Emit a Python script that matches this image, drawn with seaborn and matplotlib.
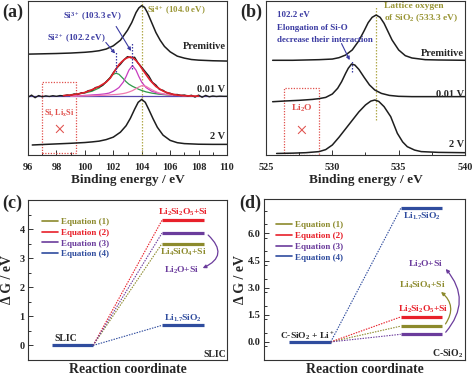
import matplotlib
matplotlib.use("Agg")
import matplotlib.pyplot as plt
from matplotlib.patches import Rectangle, FancyArrowPatch
from matplotlib.lines import Line2D
import seaborn as sns

# ---------------- data ----------------
# (a) Si 2p spectra, y in arbitrary stacked units (0-100)
prem_a_x = [96.0, 97.0, 98.0, 99.0, 100.0, 100.5, 101.0, 101.5, 102.0, 102.5, 103.0, 103.3, 103.6, 103.8,
            104.0, 104.2, 104.4, 104.7, 105.0, 105.3, 105.6, 106.0, 106.5, 107.0, 107.5, 108.0, 109.0, 110.0]
prem_a_y = [65.5, 65.7, 65.9, 66.2, 66.7, 67.1, 67.7, 68.8, 70.9, 74.5, 81.0, 86.0, 92.5, 95.5,
            97.0, 95.8, 92.5, 86.0, 79.5, 74.5, 70.5, 67.0, 64.2, 62.9, 62.0, 61.6, 61.2, 61.0]

raw_x = [96.0, 96.25, 96.5, 96.75, 97.0, 97.25, 97.5, 97.75, 98.0, 98.25, 98.5, 98.75, 99.0, 99.25, 99.5,
         99.75, 100.0, 100.25, 100.5, 100.75, 101.0, 101.25, 101.5, 101.75, 102.0, 102.25, 102.5, 102.75,
         103.0, 103.25, 103.5, 103.75, 104.0, 104.25, 104.5, 104.75, 105.0, 105.25, 105.5, 105.75, 106.0,
         106.25, 106.5, 106.75, 107.0, 107.25, 107.5, 107.75, 108.0, 108.25, 108.5, 108.75, 109.0, 109.25,
         109.5, 109.75, 110.0]
raw_y = [37.5, 38.9, 37.2, 38.6, 37.8, 38.4, 38.0, 38.5, 38.1, 38.6, 38.4, 39.0, 38.7, 39.6, 39.3,
         40.4, 40.5, 41.8, 42.0, 43.8, 44.2, 45.2, 47.6, 49.8, 53.4, 56.6, 58.9, 61.8,
         63.9, 63.1, 63.5, 59.6, 57.0, 54.1, 51.3, 47.2, 45.4, 42.6, 42.0, 40.4, 40.1,
         39.2, 39.3, 38.6, 38.9, 38.3, 38.8, 37.6, 38.9, 37.5, 38.7, 37.8, 38.3, 38.0,
         38.2, 38.1, 38.1]

env_x = [98.5, 99.0, 99.5, 100.0, 100.5, 101.0, 101.5, 101.8, 102.0, 102.2, 102.4, 102.6, 102.8, 103.0,
         103.2, 103.4, 103.6, 103.8, 104.0, 104.3, 104.6, 105.0, 105.5, 106.0, 106.5, 107.0, 108.0]
env_y = [38.6, 38.9, 39.6, 40.6, 42.4, 44.5, 47.3, 50.1, 53.1, 55.9, 58.7, 60.6, 62.2, 63.2,
         63.7, 63.0, 61.3, 59.1, 56.3, 52.3, 48.4, 44.5, 41.5, 39.8, 38.9, 38.5, 38.2]

comp_x = [99.0, 99.5, 100.0, 100.5, 101.0, 101.4, 101.7, 102.0, 102.2, 102.4, 102.7, 102.9, 103.1, 103.35,
          103.6, 103.8, 104.0, 104.3, 104.7, 105.2, 105.7, 106.2, 106.7, 107.5]
si2_y = [39.2, 39.6, 40.3, 41.4, 43.5, 46.5, 49.6, 52.4, 53.1, 52.4, 49.6, 47.6, 46.0, 44.6,
         43.5, 42.6, 41.9, 41.0, 40.2, 39.5, 39.1, 38.8, 38.7, 38.5]
si3_y = [38.3, 38.4, 38.7, 39.0, 39.3, 39.7, 40.2, 41.4, 42.5, 43.8, 47.3, 50.9, 55.1, 58.1,
         55.1, 50.9, 47.3, 43.8, 41.4, 40.0, 39.3, 38.9, 38.7, 38.4]
si4_y = [38.2, 38.3, 38.4, 38.5, 38.7, 38.8, 39.0, 39.2, 39.3, 39.5, 39.9, 40.3, 40.9, 41.8,
         43.1, 44.2, 45.0, 44.6, 42.4, 40.3, 39.4, 38.9, 38.6, 38.4]
base_a_x = [96.0, 110.0]
base_a_y = [38.0, 38.0]

v2_a_x = [96.3, 97.0, 98.0, 99.0, 100.0, 100.5, 101.0, 101.5, 102.0, 102.5, 102.9, 103.2, 103.5, 103.75,
          104.0, 104.25, 104.5, 104.8, 105.1, 105.5, 106.0, 106.5, 107.0, 108.0, 109.0, 110.0]
v2_a_y = [6.5, 6.8, 7.2, 7.6, 8.1, 8.5, 9.0, 10.0, 11.6, 14.8, 19.0, 23.8, 29.7, 34.2,
          36.1, 34.2, 29.5, 23.5, 18.0, 12.9, 9.5, 8.0, 7.4, 7.0, 6.9, 6.9]

# (b) O 1s spectra
prem_b_x = [525.5, 527.0, 528.0, 529.0, 530.0, 530.5, 531.0, 531.5, 532.0, 532.4, 532.7, 533.0, 533.3,
            533.6, 533.9, 534.2, 534.5, 535.0, 535.5, 536.0, 537.0, 538.0, 540.0]
prem_b_y = [61.5, 61.5, 61.7, 61.9, 62.3, 63.2, 64.9, 68.2, 74.2, 80.7, 85.9, 89.4, 90.9,
            89.4, 85.5, 80.1, 74.7, 68.2, 64.5, 63.0, 61.9, 61.7, 61.5]
mid_b_x = [525.5, 526.5, 527.5, 528.5, 529.0, 529.5, 530.0, 530.4, 530.7, 531.0, 531.2, 531.45, 531.7,
           532.0, 532.4, 532.8, 533.2, 533.7, 534.3, 535.0, 536.0, 538.0, 540.0]
mid_b_y = [34.6, 35.1, 35.5, 36.1, 36.6, 37.4, 39.6, 43.3, 47.6, 53.0, 56.3, 59.1, 58.4,
           55.6, 50.4, 45.5, 42.2, 40.0, 38.7, 38.1, 37.9, 37.9, 37.9]
v2_b_x = [525.8, 527.0, 528.0, 529.0, 529.5, 530.0, 530.5, 531.0, 531.5, 532.0, 532.5, 532.9, 533.2,
          533.5, 533.9, 534.4, 534.9, 535.3, 535.65, 536.2, 536.7, 538.0, 540.0]
v2_b_y = [1.0, 1.2, 1.5, 2.2, 3.5, 6.5, 11.5, 17.0, 22.5, 28.0, 32.5, 35.0, 35.7,
          34.8, 31.4, 24.9, 14.1, 8.5, 5.4, 3.2, 2.2, 1.7, 1.5]

# (c) / (d) energy levels (eV)
equations = ["Equation (1)", "Equation (2)", "Equation (3)", "Equation (4)"]
slic_dg = [3.50, 4.30, 3.86, 0.69]
csio2_dg = [0.87, 1.38, 0.42, 7.38]

OLIVE = "#8c8a2c"
RED = "#e8202a"
PURPLE = "#6b3c9c"
BLUE = "#2f4c9e"
eq_colors = [OLIVE, RED, PURPLE, BLUE]
NAVY = "#3b3ba2"
DOTOL = "#b2aa4c"
BOXRED = "#e0504c"

# ---------------- style ----------------
sns.set_style("ticks")
plt.rcParams['font.family'] = ['Liberation Serif', 'DejaVu Serif']
plt.rcParams['font.weight'] = 'bold'
plt.rcParams['axes.labelweight'] = 'bold'
plt.rcParams['mathtext.fontset'] = 'custom'
plt.rcParams['mathtext.rm'] = 'Liberation Serif:bold'
plt.rcParams['mathtext.it'] = 'Liberation Serif:bold'
plt.rcParams['mathtext.bf'] = 'Liberation Serif:bold'
plt.rcParams['axes.edgecolor'] = '#333333'
plt.rcParams['axes.linewidth'] = 0.8

W, H = 474, 377
fig = plt.figure(figsize=(W / 100, H / 100), dpi=100)


def box(l, t, r, b):
    return [l / W, 1 - b / H, (r - l) / W, (b - t) / H]


ax_a = fig.add_axes(box(28, 1, 227, 155))
ax_b = fig.add_axes(box(266, 1, 465, 155))
ax_c = fig.add_axes(box(28, 200, 227, 360))
ax_d = fig.add_axes(box(264, 199, 465, 360))

LW = 1.1


def bold_ticks(ax):
    for t in ax.get_xticklabels() + ax.get_yticklabels():
        t.set_fontweight('bold')


def spectrum_axes(ax, lo, hi, major, minor):
    ax.set_xlim(lo, hi)
    ax.set_ylim(0, 100)
    ax.set_yticks([])
    ax.set_xticks([lo + i * major for i in range(int((hi - lo) / major) + 1)])
    ax.set_xticks([lo + i * minor for i in range(int((hi - lo) / minor) + 1)], minor=True)
    ax.tick_params(axis='x', which='both', direction='in', labelsize=7.4, pad=6, color='#333333')
    ax.tick_params(axis='x', which='major', length=3.5, width=0.7)
    ax.tick_params(axis='x', which='minor', length=2.5, width=0.7)
    ax.set_xlabel("Binding energy / eV", fontsize=9.6, labelpad=1.5)
    ax.set_ylabel("")
    bold_ticks(ax)


# ---------------- (a) ----------------
ax = ax_a
ax.axvline(104.0, color=DOTOL, ls=(0, (1.2, 1.2)), lw=0.9)
sns.lineplot(x=prem_a_x, y=prem_a_y, ax=ax, color="#1e1e1e", lw=LW, estimator=None)
sns.lineplot(x=base_a_x, y=base_a_y, ax=ax, color="#5a4ab0", lw=0.9, estimator=None)
sns.lineplot(x=comp_x, y=si2_y, ax=ax, color="#2f9a4a", lw=0.9, estimator=None)
sns.lineplot(x=comp_x, y=si3_y, ax=ax, color="#c83cc0", lw=0.9, estimator=None)
sns.lineplot(x=comp_x, y=si4_y, ax=ax, color="#f07ab0", lw=0.9, estimator=None)
sns.lineplot(x=raw_x, y=raw_y, ax=ax, color="#1e1e1e", lw=1.0, estimator=None)
sns.lineplot(x=env_x, y=env_y, ax=ax, color="#e0202a", lw=1.2, estimator=None)
sns.lineplot(x=v2_a_x, y=v2_a_y, ax=ax, color="#1e1e1e", lw=LW, estimator=None)
ax.plot([102.2, 102.2], [54, 67], color=NAVY, ls=(0, (1.2, 1.2)), lw=0.9)
ax.plot([103.3, 103.3], [56, 73], color=NAVY, ls=(0, (1.2, 1.2)), lw=0.9)
ax.annotate("", xy=(102.25, 64.5), xytext=(101.35, 74.5),
            arrowprops=dict(arrowstyle="-|>", color=NAVY, lw=0.8, mutation_scale=5))
ax.annotate("", xy=(103.35, 66.0), xytext=(102.1, 85.0),
            arrowprops=dict(arrowstyle="-|>", color=NAVY, lw=0.8, mutation_scale=5))
ax.text(99.4, 75.5, r"Si$^{2+}$ (102.2 eV)", color=NAVY, fontsize=6.4, ha='center', va='center')
ax.text(100.5, 89.5, r"Si$^{3+}$ (103.3 eV)", color=NAVY, fontsize=6.4, ha='center', va='center')
ax.text(104.4, 94.0, r"Si$^{4+}$ (104.0 eV)", color="#9a9636", fontsize=6.4, ha='left', va='center')
ax.text(109.9, 70.3, "Premitive", fontsize=7.5, ha='right', va='center')
ax.text(109.9, 42.6, "0.01 V", fontsize=7.5, ha='right', va='center')
ax.text(109.9, 11.9, "2 V", fontsize=7.5, ha='right', va='center')
ax.add_patch(Rectangle((96.97, 1.3), 2.43, 46.1, fill=False, ec=BOXRED, lw=0.9, ls=(0, (1, 1.2))))
ax.text(98.18, 27.3, "Si, Li$_x$Si", color=BOXRED, fontsize=5.9, ha='center', va='center')
ax.text(98.18, 15.5, "\u00d7", color=BOXRED, fontsize=15, ha='center', va='center', fontweight='normal')
spectrum_axes(ax, 96, 110, 2, 1)

# ---------------- (b) ----------------
ax = ax_b
ax.plot([533.3, 533.3], [22.5, 97.0], color=DOTOL, ls=(0, (1.2, 1.2)), lw=0.9)
sns.lineplot(x=prem_b_x, y=prem_b_y, ax=ax, color="#1e1e1e", lw=LW, estimator=None)
sns.lineplot(x=mid_b_x, y=mid_b_y, ax=ax, color="#1e1e1e", lw=LW, estimator=None)
sns.lineplot(x=v2_b_x, y=v2_b_y, ax=ax, color="#1e1e1e", lw=LW, estimator=None)
ax.plot([531.45, 531.45], [54, 62], color=NAVY, ls=(0, (1.2, 1.2)), lw=0.9)
ax.annotate("", xy=(531.4, 60.0), xytext=(530.6, 74.0),
            arrowprops=dict(arrowstyle="-|>", color=NAVY, lw=0.8, mutation_scale=5))
ax.text(525.8, 90.9, "102.2 eV", color=NAVY, fontsize=6.4, ha='left', va='center')
ax.text(525.8, 82.3, "Elongation of Si-O", color=NAVY, fontsize=6.4, ha='left', va='center')
ax.text(525.8, 74.7, "decrease their interaction", color=NAVY, fontsize=6.4, ha='left', va='center')
ax.text(533.9, 96.8, "Lattice oxygen", color="#9a9636", fontsize=6.8, ha='left', va='center')
ax.text(533.9, 88.7, r"of SiO$_2$ (533.3 eV)", color="#9a9636", fontsize=6.8, ha='left', va='center')
ax.text(539.9, 66.0, "Premitive", fontsize=7.5, ha='right', va='center')
ax.text(539.9, 39.0, "0.01 V", fontsize=7.5, ha='right', va='center')
ax.text(539.9, 6.8, "2 V", fontsize=7.5, ha='right', va='center')
ax.add_patch(Rectangle((526.36, 0.3), 2.64, 43.0, fill=False, ec=BOXRED, lw=0.9, ls=(0, (1, 1.2))))
ax.text(527.68, 30.3, "Li$_2$O", color=BOXRED, fontsize=6.8, ha='center', va='center')
ax.text(527.68, 14.5, "\u00d7", color=BOXRED, fontsize=15, ha='center', va='center', fontweight='normal')
spectrum_axes(ax, 525, 540, 5, 2.5)


# ---------------- (c) & (d) ----------------
def energy_axes(ax, levels, left, right, ylim, ticks, minor, fmt, ylab_x):
    ax.set_xlim(0, 10)
    ax.set_ylim(*ylim)
    ax.set_xticks([])
    ax.hlines([0], left[0], left[1], colors=BLUE, lw=2.3)
    for lvl, col in zip(levels, eq_colors):
        ax.plot([left[1], right[0]], [0, lvl], color=col, ls=(0, (1.3, 1.1)), lw=0.8)
    ax.hlines(levels, right[0], right[1], colors=eq_colors, lw=2.3)
    ax.set_yticks(ticks)
    ax.set_yticklabels([fmt.format(t) for t in ticks])
    mn = [ylim[0] + i * minor for i in range(int((ylim[1] - ylim[0]) / minor) + 2)]
    ax.set_yticks([m for m in mn if ylim[0] < m < ylim[1]], minor=True)
    ax.tick_params(axis='y', which='both', direction='in', labelsize=7.4, pad=2.5, color='#333333')
    ax.tick_params(axis='y', which='major', length=3.5, width=0.7)
    ax.tick_params(axis='y', which='minor', length=2.0, width=0.7)
    ax.set_xlabel("Reaction coordinate", fontsize=9.9, labelpad=2)
    ax.set_ylabel("\u0394 G / eV", fontsize=9.9)
    ax.yaxis.set_label_coords(ylab_x, 0.5)
    bold_ticks(ax)
    return [Line2D([], [], color=c, lw=1.2) for c in eq_colors]


ax = ax_c
h = energy_axes(ax, slic_dg, (1.2, 3.27), (6.73, 8.86), (-0.5, 5.0), [0, 1, 2, 3, 4], 0.5, "{:.0f}", -0.068)
leg = ax.legend(h, equations, loc='upper left', bbox_to_anchor=(0.07, 0.89), frameon=False,
                fontsize=6.5, handlelength=1.75, handletextpad=0.4, labelspacing=0.28,
                borderpad=0, borderaxespad=0, labelcolor=eq_colors)
ax.text(7.82, 4.56, r"Li$_2$Si$_2$O$_5$+Si", color=RED, fontsize=6.8, ha='center', va='center')
ax.text(7.82, 3.19, r"Li$_4$SiO$_4$+Si", color=OLIVE, fontsize=6.8, ha='center', va='center')
ax.text(7.74, 2.57, r"Li$_2$O+Si", color=PURPLE, fontsize=6.8, ha='center', va='center')
ax.text(7.79, 0.94, r"Li$_{1.7}$SiO$_2$", color=BLUE, fontsize=6.8, ha='center', va='center')
ax.text(1.88, 0.24, "SLIC", fontsize=7.0, ha='center', va='center')
ax.text(9.95, -0.31, "SLIC", fontsize=7.0, ha='right', va='center')
ax.add_patch(FancyArrowPatch((8.95, 3.86), (8.65, 2.62), connectionstyle="arc3,rad=-0.8",
                             arrowstyle="-|>", mutation_scale=5, color=PURPLE, lw=0.9))

ax = ax_d
h = energy_axes(ax, csio2_dg, (1.24, 3.32), (6.8, 8.87), (-1.0, 7.9), [0, 1.5, 3.0, 4.5, 6.0], 0.75,
                "{:.1f}", -0.085)
ax.legend(h, equations, loc='upper left', bbox_to_anchor=(0.06, 0.865), frameon=False,
          fontsize=6.5, handlelength=1.75, handletextpad=0.4, labelspacing=0.28,
          borderpad=0, borderaxespad=0, labelcolor=eq_colors)
ax.text(7.88, 6.96, r"Li$_{1.7}$SiO$_2$", color=BLUE, fontsize=6.8, ha='center', va='center')
ax.text(8.04, 4.30, r"Li$_2$O+Si", color=PURPLE, fontsize=6.8, ha='center', va='center')
ax.text(7.88, 3.14, r"Li$_4$SiO$_4$+Si", color=OLIVE, fontsize=6.8, ha='center', va='center')
ax.text(7.91, 1.79, r"Li$_2$Si$_2$O$_5$+Si", color=RED, fontsize=6.8, ha='center', va='center')
ax.text(2.16, 0.31, r"C-SiO$_2$ + Li$^+$", fontsize=6.8, ha='center', va='center')
ax.text(9.92, -0.68, r"C-SiO$_2$", fontsize=7.0, ha='right', va='center')
ax.add_patch(FancyArrowPatch((8.95, 0.87), (8.7, 2.86), connectionstyle="arc3,rad=0.5",
                             arrowstyle="-|>", mutation_scale=5, color=OLIVE, lw=0.9))
ax.add_patch(FancyArrowPatch((8.95, 0.42), (8.95, 4.15), connectionstyle="arc3,rad=0.45",
                             arrowstyle="-|>", mutation_scale=5, color=PURPLE, lw=0.9))

# panel labels
for lbl, x, y in [("(a)", 2, 12), ("(b)", 240, 12), ("(c)", 2, 203), ("(d)", 239, 203)]:
    fig.text(x / W, 1 - y / H, lbl, fontsize=13, ha='left', va='center')

fig.savefig("out.png", dpi=100)
